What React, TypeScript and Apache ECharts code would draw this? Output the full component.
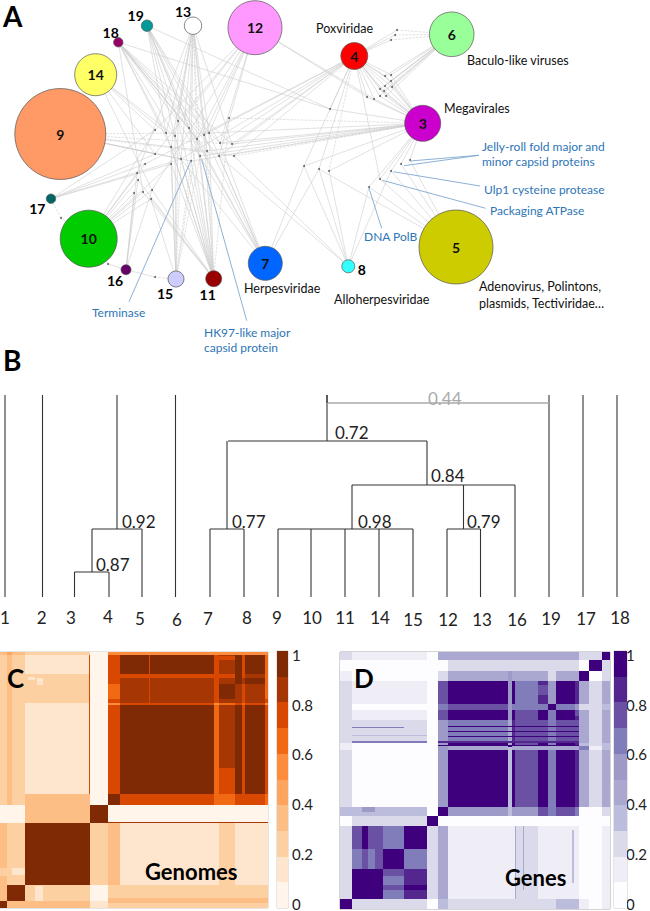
import React, { useEffect, useRef } from "react";
import * as echarts from "echarts";

const FONT = "Lato";

// ---------- Panel A: network ----------
const groupIds = ["3","4","5","6","7","8","9","10","11","12","13","14","15","16","17","18","19"];
const groupX = [422.7,354.3,456,451.7,265.3,348.3,60.3,88.7,213.7,255,193,95.7,176,126,51,118.3,147];
const groupY = [123.3,56,247,34.3,263.3,266.3,134,238.7,278.7,27.7,25.7,74.7,279,269.7,198.7,42.3,25.7];
const groupDiameter = [36,27,74,44.6,34,13,91,57,16,54,17.4,42,16,10,9.4,9.4,11.4];
const groupColors = ["#cc00cc","#ff0000","#cccc00","#99ff99","#0066ff","#33ffff","#ff9966","#00cc00","#990000","#ff99ff","#ffffff","#ffff66","#ccccff","#660066","#006666","#990066","#009999"];
const geneX = [178,189,197,204,209,220,232,229,155,166,175,171,155,181,191,200,207,219,234,145,171,137,138,152,143,134,151,61,108,155,304,319,397,395,391,385,391,391,392,385,380,384,386,380,374,367,330,329,410,401,391,380,369];
const geneY = [121,128,139,135,133,143,144,118,130,133,136,147,154,159,161,156,151,156,156,164,164,173,180,190,192,193,199,218,264,277,166,169,30,35,40,76,75,81,87,86,89,91,96,96,99,97,109,171,160,164,171,179,187];
const geneLinks = [
  "18 19 13 12 15 11 7","18 19 13 7 11","18 19 13 12 7 11 15","18 19 13 12 7 11 4","19 13 12 7 11 3 9",
  "18 19 12 3 4 7","18 13 9 3 4","3 11","14 12 17 10","14 18 19 13 11","18 19 13 14 15 11",
  "13 18 15 11 7","9 14 12 17","9 13 15 11 17 4","9 13 15 11 3","13 15 11 19 3",
  "9 13 18 11 3","18 12 3 4 7 8","9 3 4 8","10 17 4","17 10 15 11","10 13 16",
  "10 16 11","10 14 12 16 11","10 11 18","10 16","10 11 15","17 10","10 16","16 15",
  "7 8 4 3","8 7 4 5","4 6","4 6","4 6","4 3 6","4 3 6","4 3 6","4 3 6","4 3 6","4 3 6","4 3 6","4 3 6","4 3 6","4 3 12","4 3 12",
  "4 3 19 18","4 8 3","3 5","3 5","3 5 8","3 5 4","3 5 8",
];
const dashedPairs = ["g0-13","g2-13","g2-15","g4-9","g6-9","g7-3","g7-11","g13-15","g14-15","g15-15","g15-13","g16-11","g18-9","g18-3","g17-3","g32-6","g33-6","g34-6","g47-4","g27-17","g28-10","g29-15"];

// ---------- Panel B: dendrogram ----------
const leafNames = ["1","2","3","4","5","6","7","8","9","10","11","14","15","12","13","16","19","17","18"];
const leafX = [5,42.5,74.5,109,142,175.5,210,244,278,311,345,379,413,447,480.5,515,549,583,617];
const leafTop = [202,202,25,25,68,202,68,68,68,68,68,68,68,68,68,112,202,202,202];
const leafLabelX = [5,41.7,71,108,140,177,208,247,277,312,345,380,413,448,482,517,551,586,620];
const leafLabelY = [617,617,617,616,618,619,618,617,617,617,617,617,619,619,619,619,618,618,617];
const clusterSupport = ["0.87","0.92","0.77","0.98","0.79","0.84","0.72","0.44"];
const clusterHeight = [25,68,68,68,68,112,156,194];
const clusterLeft = [74.5,92,210,278,447,352,228,327];
const clusterRight = [109,142,244,413,480.5,515,427,549];
const clusterStem = [92,117,227,352,463.5,427,327,327];
const clusterStemTop = [68,202,156,112,112,156,202,202];
const clusterLabelX = [96,122,232,358,467,431,335,428];
const clusterLabelY = [564,521,521,521,521,475,432,398];

// ---------- Panels C, D: heatmaps ----------
const oranges = ["#fff5eb","#fee6ce","#fdd0a2","#fdbe85","#fda55f","#fd8d3c","#f16913","#d84801","#a63603","#7f2a04"];
const purples = ["#fdfcfe","#efedf5","#dadaeb","#bcbddc","#aaa8d0","#9e9ac8","#807dba","#6a51a3","#54278f","#3f007d"];

const cCols = [0,22,35,75,270,325,360,640,655,705,725,735,795,803];
const cRows = [97,105,163,175,192,239,250,255,522,557,610,795,845,865];
const cValues = [
  [.35,.4,.35,.25,.05,.55,.55,.55,.55,.55,.55,.55,.55],
  [.25,.35,.25,.15,.05,.75,.95,.75,.85,.95,.75,.95,.65],
  [.25,.35,.25,.25,.05,.75,.75,.7,.75,.85,.75,.8,.65],
  [.25,.35,.2,.2,.05,.75,.85,.7,.85,.95,.85,.9,.65],
  [.25,.35,.25,.25,.05,.6,.85,.7,.95,.85,.75,.85,.65],
  [.25,.35,.25,.25,.05,.75,.85,.75,.85,.85,.75,.85,.7],
  [.25,.35,.2,.15,.05,.55,.7,.55,.6,.7,.6,.7,.55],
  [.25,.35,.25,.15,.05,.75,.95,.65,.85,.95,.75,.95,.75],
  [.2,.35,.25,.35,.05,.95,.75,.65,.65,.75,.7,.75,.65],
  [.05,.05,.05,.3,.95,.05,.05,.05,.05,.05,.05,.05,.05],
  [.35,.2,.2,.95,.25,.35,.15,.15,.25,.15,.15,.15,.1],
  [.3,.95,.95,.25,.05,.25,.2,.2,.2,.2,.2,.2,.2],
  [.95,.35,.35,.35,.1,.2,.25,.25,.25,.25,.25,.25,.2],
];
const cDetails = [
  [268,271,105,522,.75],[325,803,607,610,.85],[85,105,172,180,.15],[110,130,175,197,.15],
  [655,705,445,522,.75],[445,447,105,250,.75],[0,22,745,770,.25],[35,75,745,765,.15],
  [75,95,745,765,.95],[105,128,800,845,.15],[325,803,835,850,.3],[705,725,163,175,.95],
  [650,705,110,122,.7],
];

const dCols = [45,80,305,340,368,550,560,570,640,670,692,750,762,792,832,855];
const dRows = [97,120,155,185,252,272,302,365,370,378,390,562,590,618,838,868];
const dValues = [
  [.2,.15,.02,.4,.45,.45,.4,.4,.45,.4,.45,.4,.25,.25,.95],
  [.02,.02,.02,.05,.25,.25,.2,.2,.2,.2,.2,.2,.05,.95,.25],
  [.15,.05,.02,.2,.45,.55,.4,.4,.4,.25,.4,.4,.95,.05,.25],
  [.25,.1,.02,.75,.95,.5,.95,.65,.85,.5,.95,.85,.4,.25,.4],
  [.2,.05,.02,.65,.75,.5,.65,.65,.65,.95,.65,.55,.2,.2,.35],
  [.25,.1,.02,.7,.95,.5,.95,.7,.95,.6,.95,.85,.4,.25,.4],
  [.25,.2,.02,.55,.65,.4,.85,.7,.75,.65,.75,.7,.4,.25,.4],
  [.25,.6,.02,.85,.85,.85,.85,.85,.85,.85,.85,.85,.4,.25,.4],
  [.15,.02,.02,.55,.95,.4,.95,.7,.95,.6,.95,.85,.35,.2,.35],
  [.15,.03,.02,.5,.4,.3,.45,.4,.4,.4,.4,.4,.6,.15,.3],
  [.2,.05,.02,.5,.95,.35,.95,.7,.95,.6,.95,.85,.4,.25,.4],
  [.3,.35,.02,.95,.55,.35,.55,.5,.75,.6,.7,.65,.02,.05,.2],
  [.02,.2,.95,.02,.01,.01,.01,.01,.01,.01,.01,.01,.01,.01,.01],
  [.2,.9,.2,.4,.1,.1,.1,.25,.1,.1,.1,.1,.02,.02,.1],
  [.95,.2,.02,.3,.25,.25,.25,.25,.25,.25,.3,.3,.1,.02,.1],
];
const dDetails = [
  [80,110,618,688,.75],[110,128,618,688,.95],[128,175,618,688,.75],[175,237,618,688,.65],[237,305,618,688,.95],
  [80,110,688,747,.65],[110,128,688,747,.75],[128,150,688,747,.6],[150,175,688,747,.75],[175,237,688,747,.95],[237,305,688,747,.65],
  [80,175,747,838,.95],[175,237,747,770,.75],[237,305,747,770,.8],[175,237,770,795,.65],[237,305,770,795,.85],[175,237,795,812,.75],[237,305,795,812,.95],[175,237,812,838,.65],[237,305,812,838,.8],
  [80,305,323,326,.6],[80,175,285,302,.15],[237,305,302,345,.25],[110,175,330,365,.2],[80,305,345,348,.3],
  [368,762,318,321,.95],[368,762,334,337,.9],[368,762,350,353,.9],
  [570,572,618,838,.45],[595,597,618,838,.45],[596,640,618,680,.2],[572,640,810,838,.2],[742,748,630,790,.3],
  [80,150,390,394,.05],[175,237,378,390,.01],[340,762,375,378,.9],[550,560,378,382,.95],
  [110,150,562,578,.5],[692,750,195,240,.95],[640,670,195,225,.75],[750,762,272,290,.75],
];

const barSteps = [.05,.15,.25,.35,.45,.55,.65,.75,.85,.95];

// ---------- Texts ----------
const boldTexts: [string, number, number, number, string?][] = [
  ["A",3,16,28],["B",3,360,28],["C",7,678,26],["D",354,678,26],
  ["Genomes",145,871,22],["Genes",505,877,22],
  ["19",135.7,15,14,"center"],["13",183,11,14,"center"],["18",110.7,32,14,"center"],["17",37.3,208,14,"center"],
  ["16",115,280,14,"center"],["15",165,293,14,"center"],["11",207.7,294,14,"center"],["8",361.7,269.3,14,"center"],
];
const blackTexts: [string, number, number][] = [
  ["Poxviridae",316,28],["Baculo-like viruses",467,60],["Megavirales",444,108],["Herpesviridae",244,288],
  ["Alloherpesviridae",334,299],["Adenovirus, Polintons,",479,286],["plasmids, Tectiviridae…",479,303],
];
const blueTexts: [string, number, number][] = [
  ["Terminase",92,312],["HK97-like major",204,332],["capsid protein",204,347],["Jelly-roll fold major and",482,146],
  ["minor capsid proteins",482,161],["Ulp1 cysteine protease",484,189],["Packaging ATPase",490,210],["DNA PolB",364,236],
];
const blueLines = [
  [190.7,161,129,301.7],[201.7,159.3,246.7,320.7],[410,161,479,155.3],[404,165.7,479,155.3],
  [393.3,171.7,480,186],[382.3,180.3,485.7,208.3],[368.7,187.3,381.7,228.3],
];

function blocks(cols: number[], rows: number[], vals: number[][], details: number[][]) {
  const out: number[][] = [];
  rows.slice(0, -1).forEach((_, r) =>
    cols.slice(0, -1).forEach((_, c) => out.push([cols[c], cols[c + 1], rows[r], rows[r + 1], vals[r][c]]))
  );
  return out.concat(details);
}

function rectRenderer(palette: string[]) {
  return (_: any, api: any) => {
    const a = api.coord([api.value(0), api.value(2)]);
    const b = api.coord([api.value(1), api.value(3)]);
    const x = Math.round(Math.min(a[0], b[0]));
    const y = Math.round(Math.min(a[1], b[1]));
    const w = Math.max(1, Math.round(Math.max(a[0], b[0])) - x);
    const h = Math.max(1, Math.round(Math.max(a[1], b[1])) - y);
    return {
      type: "rect",
      shape: { x, y, width: w, height: h },
      style: { fill: palette[Math.min(9, Math.floor(api.value(4) * 10))] },
    };
  };
}

export default function App() {
  const ref = useRef<HTMLDivElement>(null);
  useEffect(() => {
    const chart = echarts.init(ref.current!, null, { renderer: "svg" });

    const hidden = (i: number, min: number, max: number, inverse = false) => ({
      type: "value", gridIndex: i, min, max, inverse, show: false,
    });
    const grid = (left: number, top: number, width: number, height: number, extra: any = {}) => ({
      left, top, width, height, containLabel: false, ...extra,
    });

    const nodes = groupIds.map((id, i) => ({
      name: id,
      value: [groupX[i], groupY[i]],
      symbolSize: groupDiameter[i],
      itemStyle: { color: groupColors[i], borderColor: "#555", borderWidth: 0.7 },
      label: {
        show: Number(id) < 13 && id !== "8" && id !== "11" || id === "14",
        formatter: id, position: "inside", color: "#111",
        fontFamily: FONT, fontWeight: "bold", fontSize: 14,
      },
    })).concat(geneX.map((x, i) => ({
      name: "g" + i,
      value: [x, geneY[i]],
      symbolSize: 2,
      itemStyle: { color: "#666", borderWidth: 0, borderColor: "#666" },
      label: { show: false },
    })) as any);

    const links: any[] = [];
    geneLinks.forEach((members, i) => {
      members.split(" ").forEach((m) => {
        const key = "g" + i + "-" + m;
        links.push({
          source: "g" + i, target: m,
          lineStyle: { color: "#cccccc", width: 0.6, type: dashedPairs.includes(key) ? "dashed" : "solid", opacity: 1, curveness: 0 },
        });
      });
    });

    const segs: number[][] = [];
    leafX.forEach((x, i) => segs.push([x, 0, x, leafTop[i], 0]));
    clusterHeight.forEach((h, i) => {
      const grey = clusterSupport[i] === "0.44" ? 1 : 0;
      segs.push([clusterLeft[i], h, clusterRight[i], h, grey]);
      if (clusterStemTop[i] !== h) segs.push([clusterStem[i], h, clusterStem[i], clusterStemTop[i], 0]);
    });

    const txt = (text: string, x: number, y: number, size: number, fill: string, weight = "normal", align = "left") => ({
      type: "text", x, y, z: 100, silent: true,
      style: { text, fill, fontFamily: FONT, fontSize: size, fontWeight: weight, textAlign: align, textVerticalAlign: "middle" },
    });

    const graphic: any[] = [
      ...blueLines.map((l) => ({
        type: "line", z: 90, silent: true,
        shape: { x1: l[0], y1: l[1], x2: l[2], y2: l[3] },
        style: { stroke: "#7fa9d0", lineWidth: 0.9 },
      })),
      ...boldTexts.map((t) => txt(t[0], t[1], t[2], t[3], "#000", "bold", t[4] || "left")),
      ...blackTexts.map((t) => txt(t[0], t[1], t[2], 12.5, "#111")),
      ...blueTexts.map((t) => txt(t[0], t[1], t[2], 12, "#2e75b6")),
      ...leafNames.map((n, i) => txt(n, leafLabelX[i], leafLabelY[i], 17, "#222", "normal", "center")),
      ...clusterSupport.map((s, i) => txt(s, clusterLabelX[i], clusterLabelY[i], 17, s === "0.44" ? "#aaaaaa" : "#222")),
    ];

    const labelAxis = (i: number) => ({
      type: "value", gridIndex: i, min: 0, max: 1, interval: 0.2, position: "right",
      axisLine: { show: false }, axisTick: { show: false }, splitLine: { show: false },
      axisLabel: { show: true, margin: 4, color: "#222", fontFamily: FONT, fontSize: 15 },
    });

    const barData = barSteps.map((v) => [0, 1, v - 0.05, v + 0.05, v]);
    const rectSeries = (i: number, data: number[][], palette: string[]) => ({
      type: "custom", xAxisIndex: i, yAxisIndex: i, silent: true, clip: false,
      renderItem: rectRenderer(palette), data, encode: { x: [0, 1], y: [2, 3] },
    });
    const outline = (c: string) => ({ show: true, borderColor: c, borderWidth: 1, backgroundColor: "transparent" });

    chart.setOption({
      animation: false,
      backgroundColor: "#ffffff",
      grid: [
        grid(0, 0, 650, 911),
        grid(0, 395, 650, 202),
        grid(0, 652, 268, 256, outline("#cccccc")),
        grid(340, 652, 270, 257, outline("#aaaaaa")),
        grid(277, 651, 11, 257, outline("#cccccc")),
        grid(277, 655, 11, 249),
        grid(614, 651, 13, 257, outline("#cccccc")),
        grid(614, 655, 13, 249),
      ],
      xAxis: [
        hidden(0, 0, 650), hidden(1, 0, 650), hidden(2, 0, 803), hidden(3, 45, 855),
        hidden(4, 0, 1), hidden(5, 0, 1), hidden(6, 0, 1), hidden(7, 0, 1),
      ],
      yAxis: [
        hidden(0, 0, 911, true), hidden(1, 0, 202), hidden(2, 97, 865, true), hidden(3, 97, 868, true),
        hidden(4, 0, 1), labelAxis(5), hidden(6, 0, 1), labelAxis(7),
      ],
      series: [
        {
          type: "graph", coordinateSystem: "cartesian2d", xAxisIndex: 0, yAxisIndex: 0,
          layout: "none", roam: false, silent: true, z: 3,
          data: nodes, links, edgeSymbol: ["none", "none"],
        },
        {
          type: "custom", xAxisIndex: 1, yAxisIndex: 1, silent: true, clip: false,
          data: segs, encode: { x: [0, 2], y: [1, 3] },
          renderItem: (_: any, api: any) => {
            const a = api.coord([api.value(0), api.value(1)]);
            const b = api.coord([api.value(2), api.value(3)]);
            return {
              type: "line",
              shape: { x1: a[0], y1: a[1], x2: b[0], y2: b[1] },
              style: { stroke: api.value(4) ? "#aaaaaa" : "#333333", lineWidth: api.value(4) ? 1.4 : 1.1 },
            };
          },
        },
        rectSeries(2, blocks(cCols, cRows, cValues, cDetails), oranges),
        rectSeries(3, blocks(dCols, dRows, dValues, dDetails), purples),
        rectSeries(4, barData, oranges),
        rectSeries(6, barData, purples),
      ],
      graphic,
    });
    return () => chart.dispose();
  }, []);
  return <div ref={ref} style={{ position: "absolute", left: 0, top: 0, width: 650, height: 911 }} />;
}
